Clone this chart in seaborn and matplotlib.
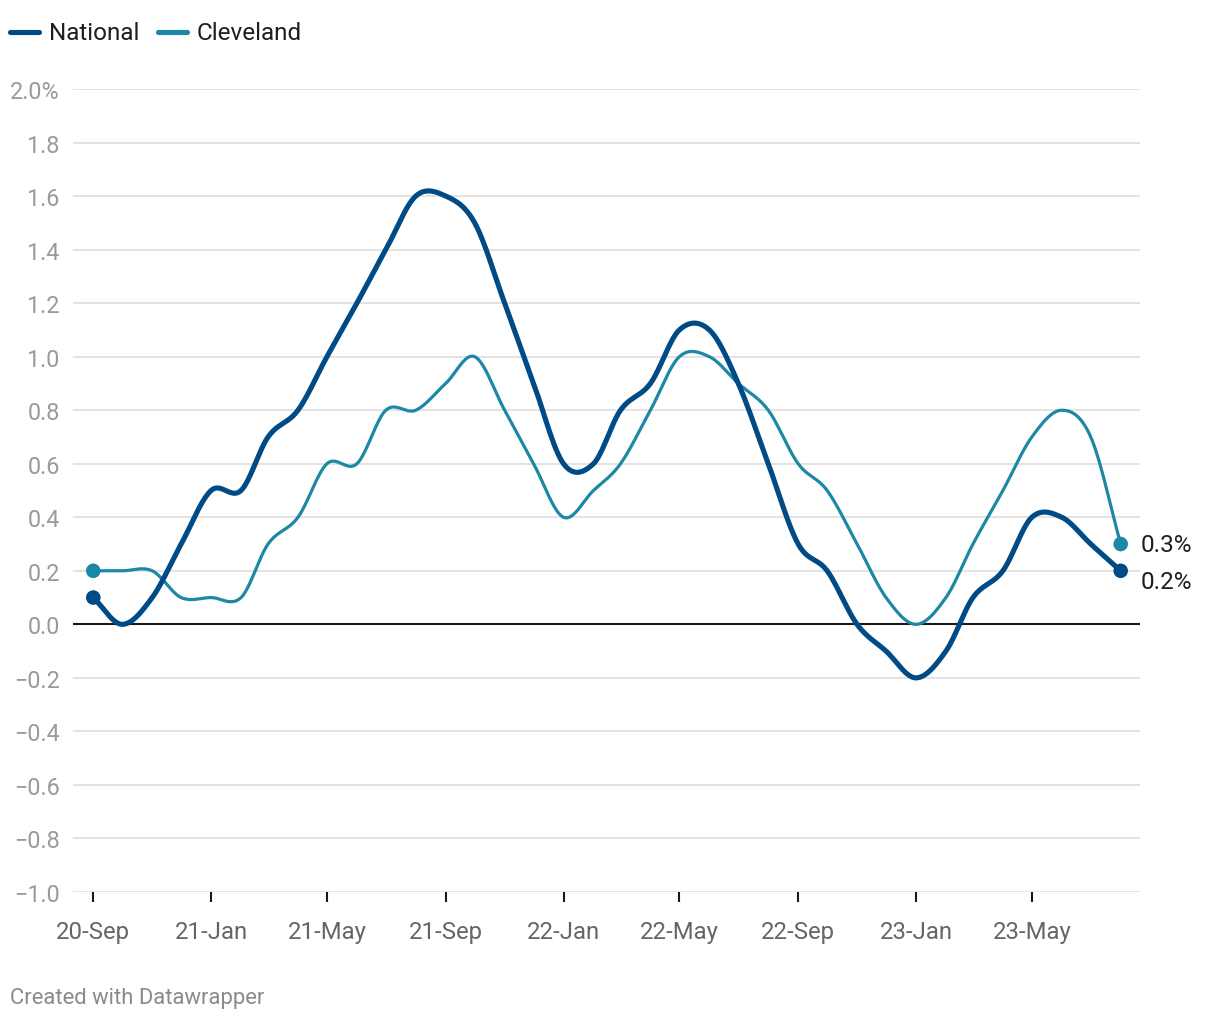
import numpy as np
import pandas as pd
import matplotlib
matplotlib.use("Agg")
import matplotlib.pyplot as plt
import matplotlib.dates as mdates
from matplotlib.lines import Line2D
import seaborn as sns

# data (monthly, Sep 2020 - Aug 2023)
months = pd.date_range("2020-09-01", "2023-08-01", freq="MS")
national = [0.1, 0.0, 0.1, 0.3, 0.5, 0.5, 0.7, 0.8, 1.0, 1.2, 1.4, 1.6,
            1.6, 1.5, 1.2, 0.9, 0.6, 0.6, 0.8, 0.9, 1.1, 1.1, 0.9, 0.6,
            0.3, 0.2, 0.0, -0.1, -0.2, -0.1, 0.1, 0.2, 0.4, 0.4, 0.3, 0.2]
cleveland = [0.2, 0.2, 0.2, 0.1, 0.1, 0.1, 0.3, 0.4, 0.6, 0.6, 0.8, 0.8,
             0.9, 1.0, 0.8, 0.6, 0.4, 0.5, 0.6, 0.8, 1.0, 1.0, 0.9, 0.8,
             0.6, 0.5, 0.3, 0.1, 0.0, 0.1, 0.3, 0.5, 0.7, 0.8, 0.7, 0.3]
xtick_dates = ["2020-09-01", "2021-01-01", "2021-05-01", "2021-09-01", "2022-01-01",
               "2022-05-01", "2022-09-01", "2023-01-01", "2023-05-01"]
xtick_labels = ["20-Sep", "21-Jan", "21-May", "21-Sep", "22-Jan",
                "22-May", "22-Sep", "23-Jan", "23-May"]
ytick_values = [2.0, 1.8, 1.6, 1.4, 1.2, 1.0, 0.8, 0.6, 0.4, 0.2, 0.0,
                -0.2, -0.4, -0.6, -0.8, -1.0]
ytick_labels = ["2.0%", "1.8", "1.6", "1.4", "1.2", "1.0", "0.8", "0.6", "0.4", "0.2", "0.0",
                "\u22120.2", "\u22120.4", "\u22120.6", "\u22120.8", "\u22121.0"]

colors = {"National": "#004b85", "Cleveland": "#1d87a6"}
widths = {"National": 3.7, "Cleveland": 2.3}


# smooth curve through the points (like the curved line option in datawrapper)
def curve(x, y, n=24):
    x = np.asarray(x, float)
    y = np.asarray(y, float)
    m = np.empty_like(y)
    m[1:-1] = (y[2:] - y[:-2]) / (x[2:] - x[:-2])
    m[0] = (y[1] - y[0]) / (x[1] - x[0])
    m[-1] = (y[-1] - y[-2]) / (x[-1] - x[-2])
    xs, ys = [], []
    for i in range(len(x) - 1):
        h = x[i + 1] - x[i]
        t = np.linspace(0, 1, n, endpoint=(i == len(x) - 2))
        h00 = 2 * t**3 - 3 * t**2 + 1
        h10 = t**3 - 2 * t**2 + t
        h01 = -2 * t**3 + 3 * t**2
        h11 = t**3 - t**2
        xs.append(x[i] + t * h)
        ys.append(h00 * y[i] + h10 * h * m[i] + h01 * y[i + 1] + h11 * h * m[i + 1])
    return np.concatenate(xs), np.concatenate(ys)


xnum = mdates.date2num(months)
frames = []
for name, vals in [("Cleveland", cleveland), ("National", national)]:
    cx, cy = curve(xnum, vals)
    frames.append(pd.DataFrame({"x": cx, "value": cy, "series": name}))
df_curve = pd.concat(frames, ignore_index=True)

df_end = pd.DataFrame({
    "x": [xnum[0], xnum[-1], xnum[0], xnum[-1]],
    "value": [cleveland[0], cleveland[-1], national[0], national[-1]],
    "series": ["Cleveland", "Cleveland", "National", "National"],
})

sns.set_style("white")
plt.rcParams["font.family"] = ["Roboto", "DejaVu Sans"]

fig = plt.figure(figsize=(12.2, 10.2), dpi=100)
ax = fig.add_axes([73 / 1220, 127 / 1020, 1067 / 1220, 803 / 1020])

ax.axhline(0, color="#1a1a1a", lw=1.5, zorder=1.5)

for name in ["Cleveland", "National"]:
    sub = df_curve[df_curve["series"] == name]
    sns.lineplot(data=sub, x="x", y="value", color=colors[name], lw=widths[name],
                 estimator=None, sort=False, ax=ax, solid_capstyle="round", zorder=3)
    ends = df_end[df_end["series"] == name]
    sns.scatterplot(data=ends, x="x", y="value", color=colors[name], s=110,
                    edgecolor="none", ax=ax, zorder=4)

# end labels
ax.annotate("0.3%", xy=(xnum[-1], cleveland[-1]), xytext=(14, 0), textcoords="offset points",
            ha="left", va="center", fontsize=17.5, color="#1e1e1e")
ax.annotate("0.2%", xy=(xnum[-1], national[-1]), xytext=(14, -7.5), textcoords="offset points",
            ha="left", va="center", fontsize=17.5, color="#1e1e1e")

# axes
ax.set_ylim(-1.0, 2.0)
ax.set_xlim(mdates.date2num(pd.Timestamp("2020-08-11")), mdates.date2num(pd.Timestamp("2023-08-21")))
ax.set_yticks(ytick_values)
ax.set_yticklabels(ytick_labels)
ax.set_xticks(mdates.date2num(pd.to_datetime(xtick_dates)))
ax.set_xticklabels(xtick_labels)
ax.grid(axis="y", color="#e3e3e3", lw=1.4)
ax.grid(axis="x", visible=False)
ax.set_axisbelow(True)
for s in ax.spines.values():
    s.set_visible(False)
ax.tick_params(axis="y", length=0, pad=9.5, labelsize=16.8, labelcolor="#9a9a9a")
ax.tick_params(axis="x", length=7, width=1.5, color="#1a1a1a", pad=13.5,
               labelsize=17.2, labelcolor="#666666", direction="out", bottom=True)
ax.set_xlabel("")
ax.set_ylabel("")

# legend
ly = 1 - 33 / 1020
for x0, name in [(10, "National"), (158, "Cleveland")]:
    fig.add_artist(Line2D([x0 / 1220, (x0 + 29) / 1220], [ly, ly], lw=3.7,
                          color=colors[name], solid_capstyle="round"))
    fig.text((x0 + 39) / 1220, ly, name, ha="left", va="center", fontsize=17.5, color="#1e1e1e")

fig.text(10 / 1220, 1 - 999 / 1020, "Created with Datawrapper", ha="left", va="center",
         fontsize=15.8, color="#8a8a8a")

fig.savefig("out.png", dpi=100)
